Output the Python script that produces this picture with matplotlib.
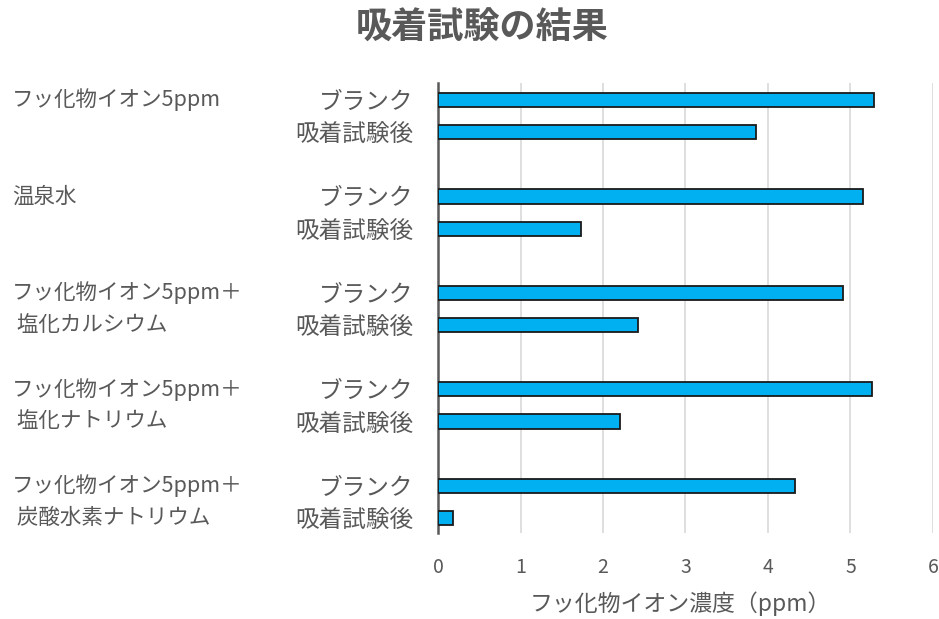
import matplotlib
matplotlib.use("Agg")
import matplotlib.pyplot as plt
import matplotlib.transforms as mtransforms

plt.rcParams['font.family'] = ['Noto Sans CJK JP', 'DejaVu Sans']

categories = [
    ["フッ化物イオン5ppm"],
    ["温泉水"],
    ["フッ化物イオン5ppm＋", " 塩化カルシウム"],
    ["フッ化物イオン5ppm＋", " 塩化ナトリウム"],
    ["フッ化物イオン5ppm＋", " 炭酸水素ナトリウム"],
]
sub_labels = ["ブランク", "吸着試験後"]
blank_values = [5.28, 5.15, 4.91, 5.26, 4.33]
after_values = [3.85, 1.73, 2.43, 2.21, 0.18]
x_ticks = [0, 1, 2, 3, 4, 5, 6]
title = "吸着試験の結果"
x_label = "フッ化物イオン濃度（ppm）"

text_color = "#595959"
bar_color = "#00B0F0"

fig = plt.figure(figsize=(9.39, 6.19), dpi=100)
ax = fig.add_axes([438/939, 1-533/619, (933-438)/939, (533-83)/619])

group_step = 3.0
pos_blank = [i * group_step for i in range(len(categories))]
pos_after = [p + 1 for p in pos_blank]

ax.barh(pos_blank, blank_values, height=0.44, color=bar_color,
        edgecolor="#1a1a1a", linewidth=1.3, zorder=3)
ax.barh(pos_after, after_values, height=0.44, color=bar_color,
        edgecolor="#1a1a1a", linewidth=1.3, zorder=3)

ax.set_xlim(0, 6)
ax.set_ylim(pos_after[-1] + 0.47, -0.53)
ax.set_xticks(x_ticks)
ax.set_xticklabels([str(t) for t in x_ticks], fontsize=14, color=text_color)
ax.grid(axis="x", color="#D9D9D9", linewidth=1.2, zorder=0)
ax.set_axisbelow(True)

yt = []
ylab = []
for pb, pa in zip(pos_blank, pos_after):
    yt += [pb, pa]
    ylab += sub_labels
ax.set_yticks(yt)
ax.set_yticklabels(ylab, fontsize=17, color=text_color)
ax.tick_params(axis="y", length=0, pad=18)
ax.tick_params(axis="x", length=0, pad=17)

for s in ["top", "right", "bottom"]:
    ax.spines[s].set_visible(False)
ax.spines["left"].set_color("#595959")
ax.spines["left"].set_linewidth(1.8)

trans = mtransforms.blended_transform_factory(fig.transFigure, ax.transData)
for lines, pb, pa in zip(categories, pos_blank, pos_after):
    for line, y in zip(lines, [pb, pa]):
        ax.text(12/939, y, line, transform=trans, ha="left", va="center",
                fontsize=15.5, color=text_color)

fig.text(680/939, 1-604/619, x_label, ha="center", va="center", fontsize=16.5, color=text_color)
fig.text(482/939, 1-28/619, title, ha="center", va="center", fontsize=26,
         color=text_color, fontweight="semibold")

fig.savefig("out.png", dpi=100)
